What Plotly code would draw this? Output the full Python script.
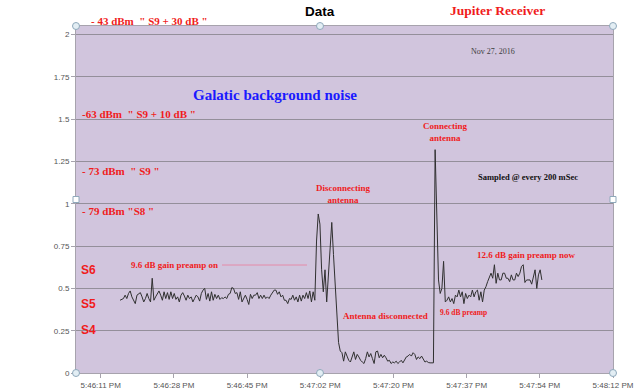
import plotly.graph_objects as go

# ---------------- data ----------------
tick_labels = ["5:46:11 PM", "5:46:28 PM", "5:46:45 PM", "5:47:02 PM",
               "5:47:20 PM", "5:47:37 PM", "5:47:54 PM", "5:48:12 PM"]
first_tick_s = 63970.56      # seconds after midnight of first tick (5:46:11 PM)
tick_step_s = 17.28          # Excel major unit (0.0002 day)
sample_start_s = 63975.12    # first plotted sample
sample_step_s = 0.4

signal = [
    0.43, 0.435, 0.44, 0.46, 0.44, 0.47, 0.485, 0.45, 0.43, 0.41,
    0.46, 0.47, 0.475, 0.45, 0.42, 0.44, 0.47, 0.44, 0.42, 0.56,
    0.43, 0.45, 0.47, 0.485, 0.46, 0.43, 0.48, 0.44, 0.475, 0.435,
    0.48, 0.44, 0.47, 0.435, 0.45, 0.42, 0.46, 0.475, 0.455, 0.43,
    0.46, 0.44, 0.45, 0.42, 0.44, 0.46, 0.45, 0.425, 0.47, 0.49,
    0.50, 0.435, 0.47, 0.425, 0.48, 0.43, 0.465, 0.44, 0.46, 0.435,
    0.445, 0.44, 0.45, 0.44, 0.465, 0.47, 0.505, 0.50, 0.47, 0.475,
    0.435, 0.48, 0.42, 0.44, 0.46, 0.435, 0.405, 0.465, 0.44, 0.46,
    0.46, 0.475, 0.44, 0.46, 0.44, 0.46, 0.44, 0.45, 0.44, 0.46,
    0.475, 0.49, 0.49, 0.465, 0.48, 0.45, 0.46, 0.43, 0.43, 0.41,
    0.44, 0.435, 0.46, 0.43, 0.45, 0.42, 0.46, 0.425, 0.46, 0.44,
    0.475, 0.44, 0.485, 0.42, 0.48, 0.43, 0.78, 0.94, 0.88, 0.61,
    0.48, 0.61, 0.42, 0.57, 0.76, 0.89, 0.70, 0.52, 0.30, 0.18,
    0.13, 0.12, 0.07, 0.125, 0.10, 0.075, 0.065, 0.095, 0.125, 0.08,
    0.11, 0.095, 0.075, 0.065, 0.056, 0.085, 0.125, 0.095, 0.115, 0.085,
    0.056, 0.125, 0.13, 0.09, 0.11, 0.09, 0.105, 0.09, 0.07, 0.075,
    0.056, 0.065, 0.06, 0.07, 0.056, 0.065, 0.075, 0.06, 0.08, 0.095,
    0.10, 0.11, 0.10, 0.12, 0.11, 0.08, 0.095, 0.085, 0.10, 0.08,
    0.065, 0.07, 0.062, 0.06, 0.06, 0.06, 1.32, 0.84, 0.55, 0.47,
    0.50, 0.66, 0.42, 0.43, 0.45, 0.42, 0.44, 0.41, 0.46, 0.45,
    0.49, 0.45, 0.48, 0.41, 0.47, 0.44, 0.46, 0.45, 0.49, 0.45,
    0.48, 0.49, 0.43, 0.48, 0.42, 0.49, 0.51, 0.54, 0.57, 0.59,
    0.56, 0.64, 0.53, 0.59, 0.55, 0.55, 0.59, 0.59, 0.56, 0.56,
    0.54, 0.58, 0.55, 0.55, 0.59, 0.57, 0.59, 0.63, 0.64, 0.535,
    0.55, 0.55, 0.55, 0.525, 0.56, 0.61, 0.50, 0.58, 0.61, 0.55,
]
y_tick_vals = [0, 0.25, 0.5, 0.75, 1, 1.25, 1.5, 1.75, 2]
y_tick_text = ["0", "0.25", "0.5", "0.75", "1", "1.25", "1.5", "1.75", "2"]

times = [sample_start_s + i * sample_step_s for i in range(len(signal))]
tick_vals = [first_tick_s + k * tick_step_s for k in range(len(tick_labels))]

# ---------------- figure ----------------
W, H = 640, 392
ML, MR, MT, MB = 76, 27, 26, 19
PW, PH = W - ML - MR, H - MT - MB

def px(xp):
    return (xp - ML) / PW

def py(yp):
    return (H - MB - yp) / PH

fig = go.Figure()
fig.add_trace(go.Scatter(x=times, y=signal, mode="lines",
                         line=dict(color="#303030", width=1),
                         hoverinfo="skip", showlegend=False))

RED = "#f01c1c"
SERIF = "Liberation Serif"
anns = []

def ann(text, xp, yp, size, color=RED, family=SERIF, xanchor="left", bold=True):
    t = f"<b>{text}</b>" if bold else text
    anns.append(dict(text=t, x=px(xp), y=py(yp), xref="paper", yref="paper",
                     xanchor=xanchor, yanchor="middle", showarrow=False,
                     font=dict(family=family, size=size, color=color)))

ann("Data", 320, 12, 13.5, color="#000000", family="Liberation Sans", xanchor="center")
ann("Jupiter Receiver", 497, 11, 13.5, xanchor="center")
ann("- 43 dBm  \" S9 + 30 dB \"", 89, 21, 11)
ann("Nov 27, 2016", 493, 52, 8, color="#404040", xanchor="center", bold=False)
ann("Galatic background noise", 191, 95, 15, color="#1a1aff")
ann("-63 dBm  \" S9 + 10 dB \"", 80, 114, 11)
ann("- 73 dBm  \" S9 \"", 80, 171, 11)
ann("- 79 dBm \"S8 \"", 80, 211, 11)
ann("Disconnecting<br>antenna", 314, 194, 9)
ann("Connecting<br>antenna", 421, 132, 9)
ann("Sampled @ every 200 mSec", 476, 177, 8.5, color="#111111")
ann("12.6 dB gain preamp now", 475, 255, 9)
ann("9.6 dB gain preamp on", 129, 265, 9)
ann("S6", 79, 270, 12, family="Liberation Sans")
ann("S5", 79, 304, 12, family="Liberation Sans")
ann("S4", 79, 330, 12, family="Liberation Sans")
ann("Antenna disconnected", 341, 316, 9)
ann("9.6 dB preamp", 438, 312, 7.5)

shapes = [dict(type="line", xref="paper", yref="paper",
               x0=px(222), x1=px(307), y0=py(265), y1=py(265),
               line=dict(color="#e58aa8", width=1))]

# selection handles around the plot area
mid = px(320)
for (hx, hy) in [(0, 1), (mid, 1), (1, 1), (0, 0), (mid, 0), (1, 0)]:
    shapes.append(dict(type="circle", xref="paper", yref="paper",
                       xsizemode="pixel", ysizemode="pixel",
                       xanchor=hx, yanchor=hy, x0=-3.5, x1=3.5, y0=-3.5, y1=3.5,
                       fillcolor="#e3eef4", line=dict(color="#8fa9bb", width=1)))
for (hx, hy) in [(0, 0.5), (1, 0.5)]:
    shapes.append(dict(type="rect", xref="paper", yref="paper",
                       xsizemode="pixel", ysizemode="pixel",
                       xanchor=hx, yanchor=hy, x0=-3, x1=3, y0=-3, y1=3,
                       fillcolor="#ffffff", line=dict(color="#8fa9bb", width=1)))

fig.update_layout(
    width=W, height=H,
    margin=dict(l=ML, r=MR, t=MT, b=MB, pad=0, autoexpand=False),
    paper_bgcolor="#ffffff",
    plot_bgcolor="#d1c5dd",
    annotations=anns,
    shapes=shapes,
    showlegend=False,
    xaxis=dict(range=[63964.725, 64091.52], tickmode="array",
               tickvals=tick_vals, ticktext=tick_labels, automargin=False,
               showgrid=False, zeroline=False,
               showline=True, linecolor="#a7a3ad", linewidth=1, mirror=True,
               ticks="outside", ticklen=4, tickcolor="#a7a3ad",
               tickfont=dict(family="Liberation Sans", size=8, color="#555555")),
    yaxis=dict(range=[0, 2.051], tickmode="array",
               tickvals=y_tick_vals, ticktext=y_tick_text, automargin=False,
               showgrid=True, gridcolor="#948f9a", gridwidth=1, zeroline=False,
               showline=True, linecolor="#a7a3ad", linewidth=1, mirror=True,
               ticks="outside", ticklen=4, tickcolor="#a7a3ad",
               tickfont=dict(family="Liberation Sans", size=8, color="#555555")),
)

fig.write_html("out.html", config={"displayModeBar": False},
               post_script="document.body.style.margin='0';document.body.style.overflow='hidden';")
